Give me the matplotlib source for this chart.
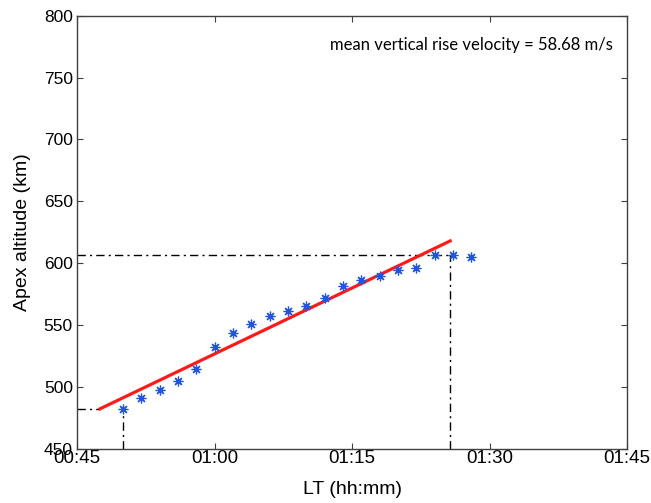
import matplotlib
matplotlib.use("Agg")
import matplotlib.pyplot as plt

# Data: minutes after 00:00 LT, apex altitude (km)
times_min = [50, 52, 54, 56, 58, 60, 62, 64, 66, 68, 70, 72, 74, 76, 78, 80, 82, 84, 86, 88]
altitudes = [482.4, 491, 497.5, 504.5, 514.8, 532.3, 543.7, 550.7, 557, 561.7,
             565.8, 572, 581.5, 586.3, 590, 594.4, 596, 606.3, 606.6, 605]
fit_times = [47.5, 85.7]
fit_alts = [482.4, 618]
ref_low = (50, 482.4)
ref_high = (85.7, 607)
xticks = [45, 60, 75, 90, 105]
xticklabels = ["00:45", "01:00", "01:15", "01:30", "01:45"]
yticks = [450, 500, 550, 600, 650, 700, 750, 800]
annotation = "mean vertical rise velocity = 58.68 m/s"

plt.rcParams['font.family'] = ['Liberation Sans', 'DejaVu Sans']
fig = plt.figure(figsize=(6.51, 5.03), dpi=100)
ax = fig.add_axes([0.1183, 0.1074, 0.845, 0.8616])

ax.set_xlim(45, 105)
ax.set_ylim(450, 800)

dd = (0, (6, 3, 1.5, 3))
ax.plot([45, fit_times[0]], [ref_low[1], ref_low[1]], color='black', lw=1, linestyle=dd)
ax.plot([ref_low[0], ref_low[0]], [450, ref_low[1]], color='black', lw=1, linestyle=dd)
ax.plot([45, ref_high[0]], [ref_high[1], ref_high[1]], color='black', lw=1, linestyle=dd)
ax.plot([ref_high[0], ref_high[0]], [450, ref_high[1]], color='black', lw=1, linestyle=dd)

ax.plot(fit_times, fit_alts, color='#ff1a1a', lw=2.3, zorder=3)
ax.plot(times_min, altitudes, linestyle='none', marker=(8, 2, 0), markersize=7,
        markeredgewidth=0.9, color='#2255dd', zorder=4)

ax.set_xticks(xticks)
ax.set_xticklabels(xticklabels, fontsize=13.5)
ax.set_yticks(yticks)
ax.set_yticklabels([str(v) for v in yticks], fontsize=12.5)
ax.tick_params(direction='in', length=4, top=True, right=True, color='#404040', pad=3)
ax.tick_params(axis='x', pad=1)
for s in ax.spines.values():
    s.set_color('#404040')
    s.set_linewidth(1)

ax.set_xlabel("LT (hh:mm)", fontsize=14, labelpad=10)
ax.set_ylabel("Apex altitude (km)", fontsize=14, labelpad=9)

ax.text(0.975, 0.932, annotation, transform=ax.transAxes, ha='right', va='center',
        fontsize=12, family=['Lato', 'DejaVu Sans'])

fig.savefig("out.png", dpi=100)
